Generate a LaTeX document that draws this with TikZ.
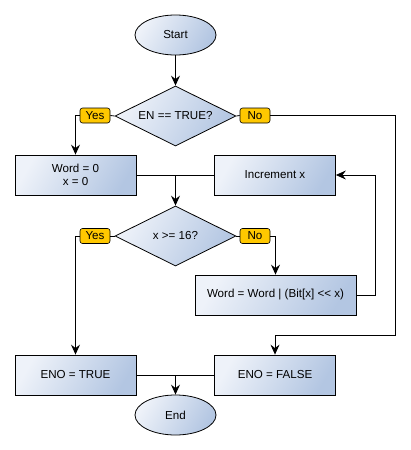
\documentclass[tikz,border=0pt]{standalone}
\usepackage{fontspec}
\setmainfont{Liberation Sans}
\usetikzlibrary{shapes.geometric,arrows.meta}
\definecolor{fillA}{HTML}{EEF2F9}
\definecolor{fillB}{HTML}{B3C6E2}
\definecolor{tagfill}{HTML}{FFC800}
\tikzset{
  shadefill/.style={draw=black, line width=0.8pt, shading=axis, top color=fillA, bottom color=fillB, shading angle=60},
  term/.style={shadefill, ellipse, minimum width=81pt, minimum height=40pt, inner sep=0pt},
  proc/.style={shadefill, rectangle, minimum width=121pt, minimum height=40pt, inner sep=0pt, align=center},
  dec/.style={shadefill, diamond, minimum width=121pt, minimum height=60pt, aspect=2, inner sep=0pt},
  tag/.style={draw=black, line width=0.6pt, fill=tagfill, rounded corners=2.5pt, minimum width=30pt, minimum height=15pt, inner sep=0pt},
  conn/.style={line width=0.8pt, draw=black},
  arr/.style={conn, -{Stealth[length=10pt, width=9pt, inset=3.5pt]}},
}
\begin{document}
\begin{tikzpicture}[x=1pt, y=-1pt, font=\fontsize{11.6}{13.5}\selectfont]
\useasboundingbox (0,0) rectangle (410,450);
\node[term] (start) at (175.5,35) {Start};
\node[dec] (d1) at (175.5,116) {EN == TRUE?};
\node[tag] (y1) at (95,115.5) {Yes};
\node[tag] (n1) at (255,115.5) {No};
\node[proc] (init) at (75.5,175) {Word = 0\\x = 0};
\node[proc] (inc) at (275,175) {Increment x};
\node[dec] (d2) at (175.5,236) {x >{}= 16?};
\node[tag] (y2) at (95,236) {Yes};
\node[tag] (n2) at (255,236) {No};
\node[proc, minimum width=161pt] (wordop) at (275.5,295) {Word = Word | (Bit[x] <{}< x)};
\node[proc] (enot) at (75.5,375) {ENO = TRUE};
\node[proc] (enof) at (275,375) {ENO = FALSE};
\node[term] (end) at (175.5,415) {End};
\coordinate (j1) at (175.5,175);
\coordinate (j2) at (175.5,375);
\coordinate (lp) at (375,175);
\coordinate (rr) at (395.5,115.5);
\coordinate (rb) at (395.5,335);

\draw[arr] (start) -- (d1);
\draw[conn] (d1.west) -- (y1.east);
\draw[conn] (d1.east) -- (n1.west);
\draw[arr] (y1.west) -| (init.north);
\draw[conn] (n1.east) -- (rr) -- (rb);
\draw[arr] (rb) -| (enof.north);
\draw[conn] (init.east) -- (inc.west);
\draw[arr] (j1) -- (d2.north);
\draw[conn] (d2.west) -- (y2.east);
\draw[conn] (d2.east) -- (n2.west);
\draw[arr] (y2.west) -| (enot.north);
\draw[arr] (n2.east) -| (wordop.north);
\draw[arr] (wordop.east) -| (lp) -- (inc.east);
\draw[conn] (enot.east) -- (enof.west);
\draw[arr] (j2) -- (end.north);
\end{tikzpicture}
\end{document}
